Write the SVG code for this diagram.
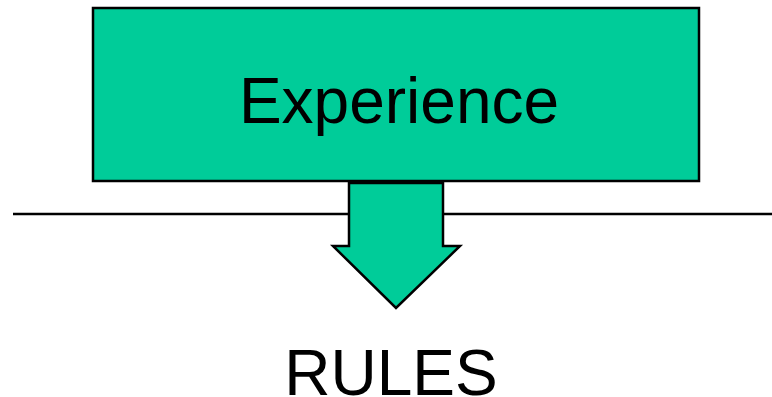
<svg xmlns="http://www.w3.org/2000/svg" width="772" height="397" viewBox="0 0 772 397">
<style>
.shape{fill:#00CC99;stroke:#000;stroke-width:2.5}
.lbl{font-family:"Liberation Sans",Arial,sans-serif;font-size:64px;fill:#000;text-anchor:middle}
</style>
<rect width="772" height="397" fill="#fff"/>
<g id="connectors">
<line x1="13" y1="214" x2="772" y2="214" stroke="#000" stroke-width="2.5"/>
</g>
<g id="experience">
<rect class="shape" x="93" y="8" width="606" height="173"/>
<text class="lbl" x="399" y="123">Experience</text>
</g>
<g id="arrow">
<polygon class="shape" points="349,183 443,183 443,246 460,246 396,308 333,246 349,246"/>
</g>
<g id="rules">
<text class="lbl" x="391" y="395">RULES</text>
</g>
</svg>
